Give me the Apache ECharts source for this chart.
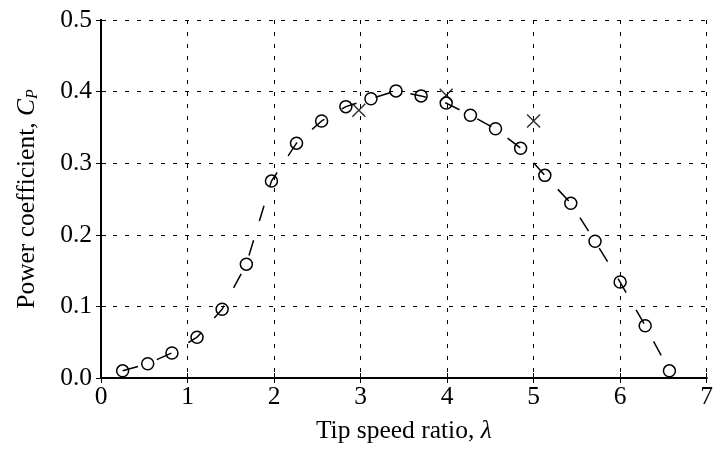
<!DOCTYPE html>
<html>
<head>
<meta charset="utf-8">
<script src="https://cdn.jsdelivr.net/npm/echarts@6/dist/echarts.min.js"></script>
<style>
  html, body { margin: 0; padding: 0; background: #fff; }
  #main { width: 716px; height: 450px; }
</style>
</head>
<body>
<div id="main"></div>
<script>
// measured curve (circles)
var tsr = [0.25, 0.54, 0.82, 1.11, 1.40, 1.68, 1.97, 2.26, 2.55, 2.83, 3.12, 3.41, 3.70, 3.99, 4.27, 4.56, 4.85, 5.13, 5.43, 5.71, 6.00, 6.29, 6.57];
var cp = [0.010, 0.020, 0.035, 0.057, 0.096, 0.159, 0.275, 0.328, 0.359, 0.379, 0.390, 0.401, 0.394, 0.384, 0.367, 0.348, 0.321, 0.283, 0.244, 0.191, 0.134, 0.073, 0.010];
// other points (crosses)
var tsrX = [2.98, 3.99, 5.0];
var cpX = [0.374, 0.395, 0.359];

var font = "'Liberation Serif', 'DejaVu Serif', serif";
var crossPath = "path://M0,0L10,10M10,0L0,10";

function pairs(xs, ys) {
  return xs.map(function (x, i) { return [x, ys[i]]; });
}

var myChart = echarts.init(document.getElementById("main"));

var frame = { show: true, lineStyle: { color: "#000", width: 2 } };
var grid = { show: true, lineStyle: { color: "#000", width: 1, type: [4, 8] } };
var ticks = { show: true, inside: true, length: 5, lineStyle: { color: "#000", width: 1 } };

var option = {
  backgroundColor: "#fff",
  animation: false,
  grid: { left: 101, top: 20, right: 8, bottom: 72 },
  xAxis: [
    {
      type: "value", min: 0, max: 7, interval: 1,
      axisLine: frame,
      axisTick: ticks,
      splitLine: grid,
      axisLabel: { color: "#000", fontFamily: font, fontSize: 25.5, margin: 6 },
      name: "Tip speed ratio, {i|λ}",
      nameLocation: "middle",
      nameGap: 40,
      nameTextStyle: {
        color: "#000", fontFamily: font, fontSize: 25.5,
        rich: { i: { fontFamily: font, fontSize: 25.5, fontStyle: "italic", color: "#000" } }
      }
    },
    {
      type: "value", min: 0, max: 7, interval: 1, position: "top",
      axisLine: frame,
      axisTick: ticks,
      splitLine: { show: false },
      axisLabel: { show: false }
    }
  ],
  yAxis: [
    {
      type: "value", min: 0, max: 0.5, interval: 0.1,
      axisLine: frame,
      axisTick: ticks,
      splitLine: grid,
      axisLabel: {
        color: "#000", fontFamily: font, fontSize: 25.5, margin: 9,
        formatter: function (v) { return v.toFixed(1); }
      },
      name: "Power coefficient, {i|C}{s|P}",
      nameLocation: "middle",
      nameGap: 60,
      nameTextStyle: {
        color: "#000", fontFamily: font, fontSize: 25.5,
        rich: {
          i: { fontFamily: font, fontSize: 25.5, fontStyle: "italic", color: "#000" },
          s: { fontFamily: font, fontSize: 16, fontStyle: "italic", color: "#000", padding: [12, 0, 0, 0] }
        }
      }
    },
    {
      type: "value", min: 0, max: 0.5, interval: 0.1, position: "right",
      axisLine: frame,
      axisTick: ticks,
      splitLine: { show: false },
      axisLabel: { show: false }
    }
  ],
  series: [
    {
      type: "line",
      data: pairs(tsr, cp),
      symbol: "circle",
      symbolSize: 12,
      lineStyle: { color: "#000", width: 1.5, type: [16, 20] },
      itemStyle: { color: "rgba(0,0,0,0)", borderColor: "#000", borderWidth: 1.5 },
      z: 3
    },
    {
      type: "scatter",
      data: pairs(tsrX, cpX),
      symbol: crossPath,
      symbolSize: 13,
      itemStyle: { color: "rgba(0,0,0,0)", borderColor: "#000", borderWidth: 1.5 },
      z: 4
    }
  ]
};

myChart.setOption(option);
</script>
</body>
</html>
